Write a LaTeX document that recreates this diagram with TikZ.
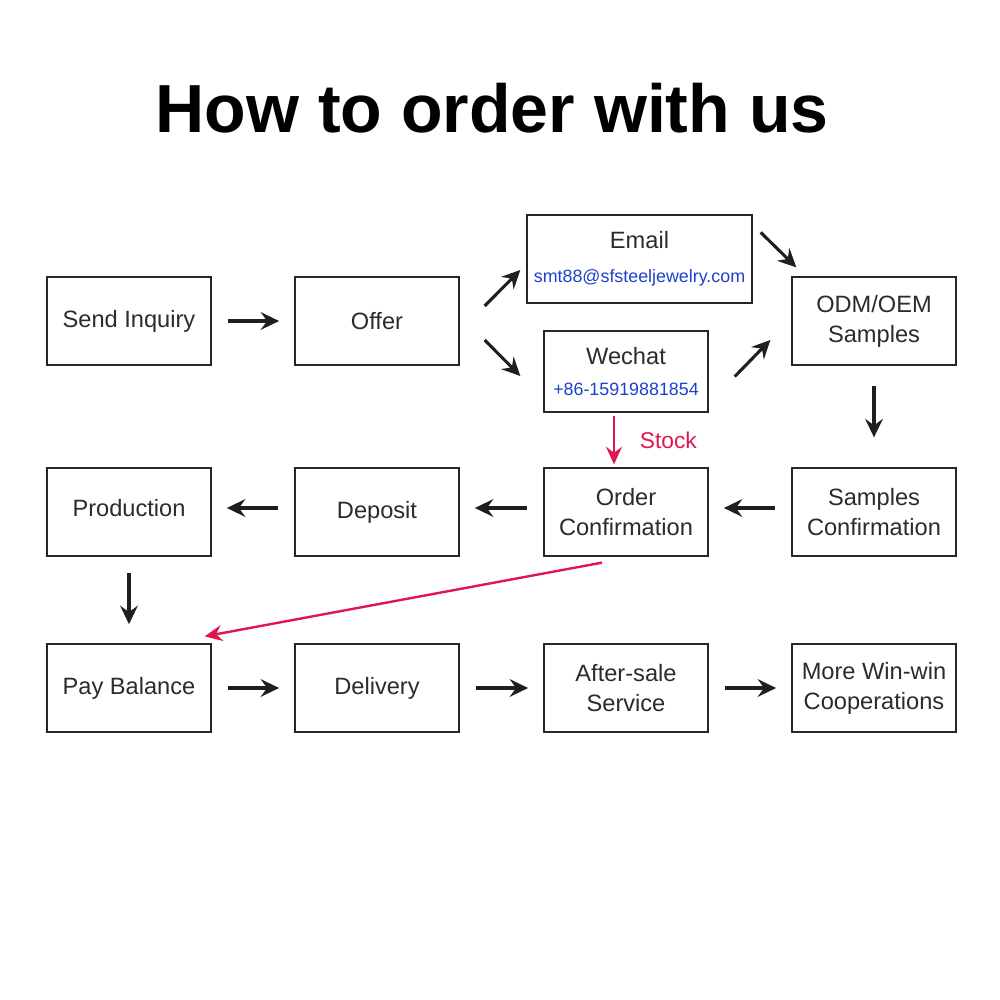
\documentclass[tikz,border=0pt]{standalone}
\usepackage{fontspec}
\setmainfont{Liberation Sans}
\usetikzlibrary{positioning,arrows.meta}
\definecolor{boxtxt}{HTML}{2B2B2B}
\definecolor{linkblue}{HTML}{1E3FCB}
\definecolor{stockred}{HTML}{E0174F}

\begin{document}
\begin{tikzpicture}[x=0.025cm, y=-0.025cm,
        stepbox/.style={draw=black!85, line width=0.9pt, minimum width=4.1cm, minimum height=2.2cm,
            align=center, text=boxtxt, inner sep=0pt, font=\fontsize{16.8}{21.3}\selectfont},
        arr/.style={-{Stealth[length=4.6mm, width=4.4mm, inset=1.6mm]}, line width=2.2pt, draw=black!88},
        redarr/.style={-{Stealth[length=4.4mm, width=4mm, inset=1.5mm]}, line width=1.7pt, draw=stockred},
        gap/.style={shorten <=0.42cm, shorten >=0.38cm},
    ]
    \useasboundingbox (0,0) rectangle (1000,1000);

    \node[font=\fontsize{48.4}{58}\selectfont\bfseries, anchor=base] (title) at (492,132) {How to order with us};

    % first row
    \node[stepbox] (send)  at (129,321) {Send Inquiry};
    \node[stepbox] (offer) at (377,321) {Offer};
    \node[stepbox, minimum width=5.625cm] (email) at (639.5,259)
        {Email\\[3pt]{\fontsize{12.7}{15}\selectfont\color{linkblue}smt88@sfsteeljewelry.com}};
    \node[stepbox, minimum height=2.025cm] (wechat) at (626,371.5)
        {Wechat\\[1pt]{\fontsize{12.7}{15}\selectfont\color{linkblue}+86-15919881854}};
    \node[stepbox] (odm)   at (874,321) {ODM/OEM\\Samples};

    % second row
    \node[stepbox] (prod)    at (129,512) {\raisebox{0.2cm}{Production}};
    \node[stepbox] (deposit) at (377,512) {\raisebox{0.1cm}{Deposit}};
    \node[stepbox] (order)   at (626,512) {Order\\Confirmation};
    \node[stepbox] (sconf)   at (874,512) {Samples\\Confirmation};

    % third row
    \node[stepbox] (pay)      at (129,688) {Pay Balance};
    \node[stepbox] (delivery) at (377,688) {Delivery};
    \node[stepbox] (after)    at (626,688) {After-sale\\Service};
    \node[stepbox] (more)     at (874,688) {More Win-win\\Cooperations};

    % connectors
    \draw[arr, gap] (send.east) -- (offer.west);
    \draw[arr] ([shift={(25,-15)}]offer.east) -- ([shift={(-6,11)}]email.west);
    \draw[arr] ([shift={(25,19)}]offer.east) -- ([shift={(-23,4.5)}]wechat.west);
    \draw[arr] ([shift={(8,18)}]email.north east) -- ([shift={(5,-9)}]odm.north west);
    \draw[arr] ([shift={(26,-36)}]wechat.south east) -- ([shift={(-21,19)}]odm.west);
    \draw[arr, shorten <=0.52cm, shorten >=0.75cm] (odm.south) -- (sconf.north);

    \draw[arr, gap] ([yshift=0.1cm]sconf.west) -- ([yshift=0.1cm]order.east);
    \draw[arr, gap] ([yshift=0.1cm]order.west) -- ([yshift=0.1cm]deposit.east);
    \draw[arr, gap] ([yshift=0.1cm]deposit.west) -- ([yshift=0.1cm]prod.east);
    \draw[arr, shorten <=0.42cm, shorten >=0.48cm] (prod.south) -- (pay.north);

    \draw[arr, gap] (pay.east) -- (delivery.west);
    \draw[arr, gap] (delivery.east) -- (after.west);
    \draw[arr, gap] (after.east) -- (more.west);

    \draw[redarr] ([shift={(-12,3)}]wechat.south) -- ([shift={(-12,-3)}]order.north)
        node[midway, right=0.5cm, text=stockred, font=\fontsize{16.2}{20}\selectfont] (stock) {Stock};
    \draw[redarr] ([shift={(-24,6)}]order.south) -- ([shift={(-7,-7)}]pay.north east);
\end{tikzpicture}
\end{document}
